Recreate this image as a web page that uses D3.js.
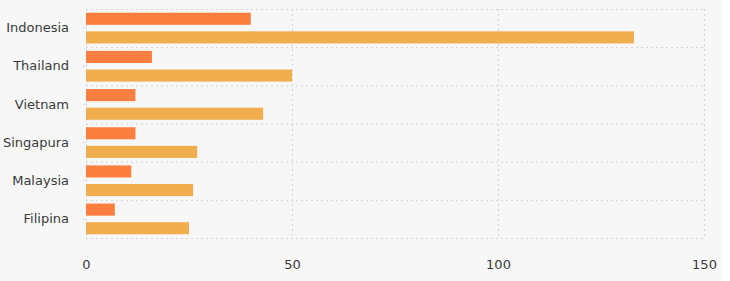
<!DOCTYPE html>
<html>
<head>
<meta charset="utf-8">
<script src="https://cdn.jsdelivr.net/npm/d3@7"></script>
<style>
  body { margin: 0; background: #fff; }
  svg { display: block; }
  .axis text { font-family: "DejaVu Sans", sans-serif; font-size: 13px; fill: #3a3a3a; }
  .axis path { display: none; }
  .grid line { stroke: #d4d4d4; stroke-dasharray: 2,3; }
</style>
</head>
<body>
<svg width="730" height="281"></svg>
<script>
const countries = ['Indonesia', 'Thailand', 'Vietnam', 'Singapura', 'Malaysia', 'Filipina'];
const seriesA = [40, 16, 12, 12, 11, 7];
const seriesB = [133, 50, 43, 27, 26, 25];
const xTicks = [0, 50, 100, 150];
const colors = ['#fd7f40', '#f0ae4e'];

let svg = d3.select('svg'),
    margin = {top: 9, right: 26, bottom: 43, left: 86},
    width = 730 - margin.left - margin.right,
    height = 281 - margin.top - margin.bottom;

svg.append('rect')
    .attr('width', 722).attr('height', 281)
    .attr('fill', '#f7f7f7');

let g = svg.append('g').attr('transform', `translate(${margin.left},${margin.top})`);

let x = d3.scaleLinear().domain([0, 150]).range([0, width]);
let y = d3.scaleBand().domain(countries).range([0, height]);
let inner = d3.scaleBand().domain([0, 1]).range([0, y.bandwidth()]).paddingInner(0.35).paddingOuter(0.2);

// gridlines
let grid = g.append('g').attr('class', 'grid');
grid.selectAll('line.h')
    .data(countries.map(c => y(c)).concat([height]))
    .enter().append('line')
    .attr('x1', 0).attr('x2', width)
    .attr('y1', d => d + 0.5).attr('y2', d => d + 0.5);
grid.selectAll('line.v')
    .data(xTicks)
    .enter().append('line')
    .attr('x1', d => Math.round(x(d)) + 0.5).attr('x2', d => Math.round(x(d)) + 0.5)
    .attr('y1', 0).attr('y2', height);

// bars
let rows = countries.map((c, i) => [seriesA[i], seriesB[i]]);
g.selectAll('g.row').data(rows)
    .enter().append('g')
    .attr('transform', (d, i) => `translate(0,${y(countries[i])})`)
    .selectAll('rect')
    .data(d => d)
    .enter().append('rect')
    .attr('x', 0)
    .attr('y', (d, j) => inner(j))
    .attr('width', d => x(d))
    .attr('height', inner.bandwidth())
    .attr('fill', (d, j) => colors[j]);

// axes
g.append('g')
    .attr('class', 'axis')
    .call(d3.axisLeft(y).tickSize(4).tickPadding(13))
    .selectAll('.tick line').attr('stroke', '#e2e2e2');

g.append('g')
    .attr('class', 'axis')
    .attr('transform', `translate(0,${height})`)
    .call(d3.axisBottom(x).tickValues(xTicks).tickSize(0).tickPadding(22));
</script>
</body>
</html>
